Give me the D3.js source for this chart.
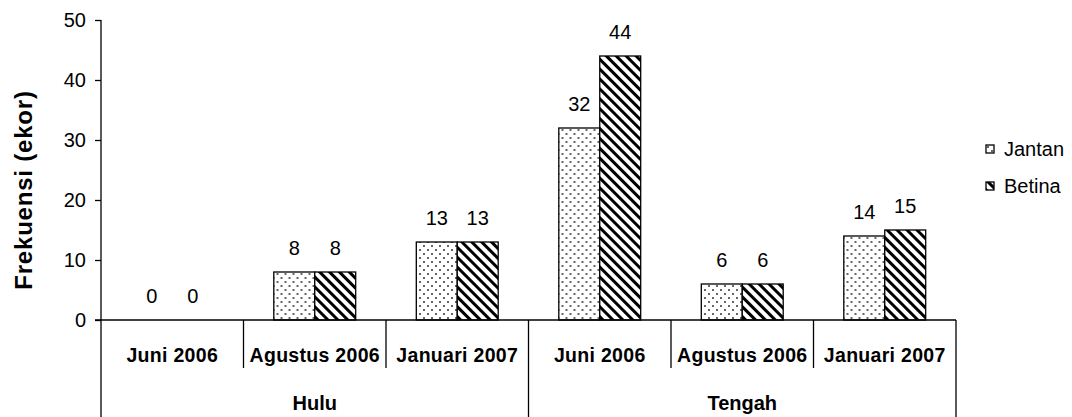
<!DOCTYPE html>
<html>
<head>
<meta charset="UTF-8">
<script src="https://cdn.jsdelivr.net/npm/d3@7"></script>
<style>
body { margin: 0; background: #fff; }
svg { font-family: "Liberation Sans", Arial, sans-serif; }
.tick text { font-size: 20px; fill: #000; }
.cat { font-size: 19.5px; font-weight: bold; letter-spacing: 0.3px; }
.grp { font-size: 20px; font-weight: bold; }
.val { font-size: 20px; }
</style>
</head>
<body>
<svg id="chart" width="1072" height="417"></svg>
<script>
var groups = ["Hulu", "Tengah"];
var periods = ["Juni 2006", "Agustus 2006", "Januari 2007"];
var series = ["Jantan", "Betina"];
var jantan = [0, 8, 13, 32, 6, 14];
var betina = [0, 8, 13, 44, 6, 15];
var yTicks = [0, 10, 20, 30, 40, 50];

var svg = d3.select("#chart"),
  plotLeft = 101, plotRight = 956, plotTop = 20, base = 320;

var cats = [];
groups.forEach(function(g) {
  periods.forEach(function(p) { cats.push(g + "|" + p); });
});
var data = cats.map(function(c, i) {
  return { key: c, Jantan: jantan[i], Betina: betina[i] };
});

var x = d3.scaleBand().domain(cats).range([plotLeft, plotRight]);
var x1 = d3.scaleBand().domain(series).range([0, x.bandwidth()]).paddingOuter(0.74);
var y = d3.scaleLinear().domain([0, 50]).range([base, plotTop]);

// patterns
var defs = svg.append("defs");
var dots = defs.append("pattern").attr("id", "dots")
  .attr("patternUnits", "userSpaceOnUse").attr("width", 8).attr("height", 8);
dots.append("rect").attr("width", 8).attr("height", 8).attr("fill", "#fff");
dots.append("circle").attr("cx", 2).attr("cy", 2).attr("r", 1).attr("fill", "#333");
dots.append("circle").attr("cx", 6).attr("cy", 6).attr("r", 1).attr("fill", "#333");
var stripes = defs.append("pattern").attr("id", "stripes")
  .attr("patternUnits", "userSpaceOnUse").attr("width", 7).attr("height", 7)
  .attr("patternTransform", "rotate(-45)");
stripes.append("rect").attr("width", 7).attr("height", 7).attr("fill", "#fff");
stripes.append("rect").attr("width", 3).attr("height", 7).attr("fill", "#000");
var fills = { Jantan: "url(#dots)", Betina: "url(#stripes)" };

// y axis
var yAxis = svg.append("g")
  .attr("transform", "translate(" + plotLeft + ",0)")
  .call(d3.axisLeft(y).tickValues(yTicks).tickSize(6).tickPadding(9));
yAxis.select(".domain").remove();
yAxis.selectAll("line").attr("stroke", "#000").attr("stroke-width", 1.3);
svg.append("line").attr("x1", plotLeft).attr("x2", plotLeft).attr("y1", plotTop).attr("y2", 417)
  .attr("stroke", "#000").attr("stroke-width", 1.3);

svg.append("text")
  .attr("transform", "translate(32,190) rotate(-90)")
  .attr("text-anchor", "middle")
  .style("font-size", "24px").style("font-weight", "bold")
  .style("letter-spacing", "0.8px")
  .text("Frekuensi (ekor)");

// bars
var cat = svg.selectAll(".catg").data(data).enter().append("g")
  .attr("transform", function(d) { return "translate(" + x(d.key) + ",0)"; });
cat.selectAll("rect").data(function(d) {
  return series.map(function(s) { return { s: s, v: d[s] }; });
}).enter().append("rect")
  .attr("x", function(d) { return x1(d.s); })
  .attr("width", x1.bandwidth())
  .attr("y", function(d) { return y(d.v); })
  .attr("height", function(d) { return base - y(d.v); })
  .attr("fill", function(d) { return fills[d.s]; })
  .attr("stroke", "#000").attr("stroke-width", 1.3)
  .style("display", function(d) { return d.v > 0 ? null : "none"; });
cat.selectAll(".val").data(function(d) {
  return series.map(function(s) { return { s: s, v: d[s] }; });
}).enter().append("text").attr("class", "val")
  .attr("x", function(d) { return x1(d.s) + x1.bandwidth() / 2; })
  .attr("y", function(d) { return y(d.v) - 17; })
  .attr("text-anchor", "middle")
  .text(function(d) { return d.v; });

// x axis
svg.append("line").attr("x1", plotLeft - 6).attr("x2", plotRight).attr("y1", base).attr("y2", base)
  .attr("stroke", "#000").attr("stroke-width", 1.5);
cats.forEach(function(c, i) {
  var edge = x(c) + x.bandwidth();
  var isGroupEnd = (i + 1) % periods.length === 0;
  svg.append("line").attr("x1", edge).attr("x2", edge)
    .attr("y1", base).attr("y2", isGroupEnd ? 417 : 368)
    .attr("stroke", "#000").attr("stroke-width", 1.3);
  svg.append("text").attr("class", "cat")
    .attr("x", x(c) + x.bandwidth() / 2).attr("y", 362)
    .attr("text-anchor", "middle")
    .text(c.split("|")[1]);
});
groups.forEach(function(g) {
  var first = x(g + "|" + periods[0]),
    last = x(g + "|" + periods[periods.length - 1]) + x.bandwidth();
  svg.append("text").attr("class", "grp")
    .attr("x", (first + last) / 2).attr("y", 410)
    .attr("text-anchor", "middle").text(g);
});

// legend
var leg = svg.selectAll(".leg").data(series).enter().append("g")
  .attr("transform", function(d, i) { return "translate(986," + (145 + i * 37) + ")"; });
leg.append("rect").attr("width", 8).attr("height", 8)
  .attr("fill", function(d) { return fills[d]; })
  .attr("stroke", "#000").attr("stroke-width", 1.3);
leg.append("text").attr("x", 18).attr("y", 11)
  .style("font-size", "20px").text(function(d) { return d; });
</script>
</body>
</html>
